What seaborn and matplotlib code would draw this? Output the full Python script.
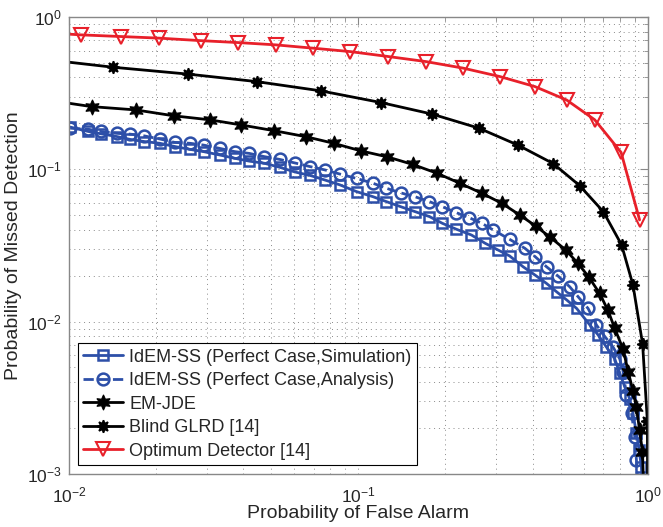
import numpy as np
import matplotlib
matplotlib.use("Agg")
import matplotlib.pyplot as plt
import seaborn as sns

# values (log-log ROC style curves)
sim_pf = [0.0101, 0.01166, 0.01287, 0.01462, 0.01625, 0.0182, 0.0206, 0.0232, 0.0262, 0.0292,
          0.0332, 0.0374, 0.042, 0.0473, 0.0535, 0.0603, 0.0682, 0.0766, 0.0863, 0.0986,
          0.1122, 0.125, 0.140, 0.157, 0.176, 0.195, 0.218, 0.246, 0.274, 0.304,
          0.333, 0.371, 0.408, 0.447, 0.484, 0.524, 0.568, 0.631, 0.673, 0.720,
          0.769, 0.800, 0.834, 0.867, 0.889, 0.914, 0.933, 0.951, 0.96]
sim_pm = [0.189, 0.177, 0.171, 0.164, 0.157, 0.152, 0.148, 0.141, 0.135, 0.1305,
          0.124, 0.118, 0.113, 0.1095, 0.103, 0.096, 0.091, 0.085, 0.079, 0.0713,
          0.0661, 0.0613, 0.0568, 0.0527, 0.0489, 0.0442, 0.0404, 0.037, 0.0327, 0.0295,
          0.027, 0.0229, 0.0202, 0.0178, 0.0157, 0.0139, 0.0122, 0.0095, 0.0082, 0.0068,
          0.0057, 0.0046, 0.0037, 0.0031, 0.0025, 0.00185, 0.00144, 0.00111, 0.0007]

ana_pf = [0.0101, 0.01166, 0.01287, 0.01462, 0.01625, 0.0182, 0.0206, 0.0232, 0.0262, 0.0292,
          0.0332, 0.0374, 0.042, 0.0473, 0.0535, 0.0603, 0.0682, 0.0766, 0.0863, 0.0986,
          0.1122, 0.125, 0.140, 0.157, 0.176, 0.195, 0.218, 0.242, 0.267, 0.292, 0.333,
          0.376, 0.408, 0.447, 0.490, 0.538, 0.574, 0.622, 0.665, 0.710, 0.759,
          0.800, 0.822, 0.844, 0.879, 0.902, 0.914, 0.93]
ana_pm = [0.186, 0.183, 0.177, 0.172, 0.170, 0.1655, 0.158, 0.150, 0.148, 0.144,
          0.137, 0.1305, 0.127, 0.121, 0.116, 0.110, 0.104, 0.099, 0.093, 0.087,
          0.081, 0.075, 0.070, 0.066, 0.0613, 0.0568, 0.0519, 0.048, 0.0442, 0.040, 0.0347,
          0.0303, 0.0267, 0.0229, 0.0199, 0.0169, 0.0146, 0.0122, 0.0095, 0.0080, 0.0068,
          0.0057, 0.0047, 0.0033, 0.0025, 0.00175, 0.00123, 0.0007]

emjde_pf = [0.01, 0.01198, 0.01704, 0.0231, 0.0307, 0.0393, 0.0512, 0.0657, 0.0822, 0.102,
            0.126, 0.154, 0.187, 0.224, 0.267, 0.313, 0.361, 0.410, 0.461, 0.521,
            0.574, 0.627, 0.682, 0.728, 0.769, 0.822, 0.856, 0.889, 0.914, 0.937,
            0.959, 0.97]
emjde_pm = [0.271, 0.2576, 0.245, 0.224, 0.211, 0.1954, 0.179, 0.1637, 0.148, 0.132,
            0.1205, 0.1076, 0.0941, 0.081, 0.0696, 0.0598, 0.0501, 0.0424, 0.0357, 0.0295,
            0.0241, 0.0195, 0.0153, 0.0119, 0.00903, 0.00658, 0.00469, 0.00352, 0.00274, 0.00194,
            0.0014, 0.0007]

glrd_pf = [0.01, 0.01423, 0.0258, 0.0445, 0.0741, 0.1197, 0.180, 0.261, 0.356, 0.471,
           0.582, 0.702, 0.812, 0.889, 0.960, 0.997, 0.999]
glrd_pm = [0.504, 0.467, 0.421, 0.376, 0.327, 0.274, 0.230, 0.186, 0.144, 0.109,
           0.078, 0.0527, 0.0319, 0.0174, 0.00712, 0.00222, 0.0007]

opt_pf = [0.01, 0.01097, 0.0151, 0.0205, 0.0286, 0.0385, 0.0518, 0.0698, 0.0935, 0.127,
          0.171, 0.230, 0.308, 0.407, 0.524, 0.656, 0.809, 0.937]
opt_pm = [0.77, 0.762, 0.743, 0.725, 0.698, 0.678, 0.655, 0.623, 0.592, 0.549,
          0.509, 0.461, 0.406, 0.349, 0.285, 0.211, 0.129, 0.0465]

sns.set_style("white")
plt.rcParams['font.family'] = ['Liberation Sans', 'DejaVu Sans']

fig, ax = plt.subplots(figsize=(6.63, 5.27), dpi=100)
fig.subplots_adjust(left=0.104, right=0.977, top=0.968, bottom=0.1006)

blue = '#2d4fa8'
red = '#e8202a'

sns.lineplot(x=sim_pf, y=sim_pm, ax=ax, sort=False, color=blue, lw=2,
             marker='s', ms=6.5, mfc='none', mec=blue, mew=1.8,
             markevery=list(range(len(sim_pf) - 1)),
             label='IdEM-SS (Perfect Case,Simulation)')
sns.lineplot(x=ana_pf, y=ana_pm, ax=ax, sort=False, color=blue, lw=2, linestyle='--',
             marker='o', ms=8.5, mfc='none', mec=blue, mew=1.8,
             markevery=list(range(len(ana_pf) - 1)),
             label='IdEM-SS (Perfect Case,Analysis)')
sns.lineplot(x=emjde_pf, y=emjde_pm, ax=ax, sort=False, color='black', lw=2,
             marker=(6, 1, 0), ms=11, mfc='black', mec='black',
             markevery=list(range(1, len(emjde_pf) - 1)),
             label='EM-JDE')
sns.lineplot(x=glrd_pf, y=glrd_pm, ax=ax, sort=False, color='black', lw=2,
             marker=(8, 1, 0), ms=9, mfc='black', mec='black', mew=1.2,
             markevery=list(range(1, len(glrd_pf) - 1)),
             label='Blind GLRD [14]')
sns.lineplot(x=opt_pf, y=opt_pm, ax=ax, sort=False, color=red, lw=2,
             marker='v', ms=10, mfc='none', mec=red, mew=1.5,
             markevery=list(range(1, len(opt_pf))),
             label='Optimum Detector [14]')

ax.set_xscale('log')
ax.set_yscale('log')
ax.set_xlim(1e-2, 1)
ax.set_ylim(1e-3, 1)

ax.grid(True, which='both', linestyle=(0, (1, 4)), color='#8a8a8a', lw=0.7)
for s in ax.spines.values():
    s.set_color('#888888')
    s.set_linewidth(1)
ax.tick_params(which='both', direction='in', top=True, right=True, color='#888888',
               labelsize=12.5)
ax.tick_params(axis='x', which='both', pad=8)
ax.tick_params(axis='y', which='both', pad=5)
ax.tick_params(which='major', length=6)
ax.tick_params(which='minor', length=3)

ax.set_xlabel('Probability of False Alarm', fontsize=14, labelpad=0)
ax.set_ylabel('Probability of Missed Detection', fontsize=14, labelpad=4)

leg = ax.legend(loc='lower left', fontsize=13, frameon=True, fancybox=False,
                edgecolor='black', framealpha=1, handlelength=2.2, handletextpad=0.35,
                labelspacing=0.36, borderaxespad=0.5, borderpad=0.3)
leg.get_frame().set_linewidth(0.8)

fig.savefig('out.png', dpi=100)
